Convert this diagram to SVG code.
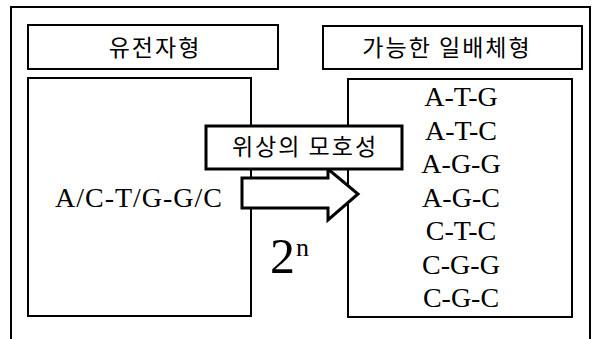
<svg xmlns="http://www.w3.org/2000/svg" width="595" height="339" viewBox="0 0 595 339">
<style>
.box{fill:#fff;stroke:#000;stroke-width:2}
.thick{fill:#fff;stroke:#000;stroke-width:3}
.ko{font-family:"Noto Sans CJK KR","Noto Sans",sans-serif;font-size:23px;letter-spacing:2px;text-anchor:middle;fill:#000}
.se{font-family:"Liberation Serif","Times New Roman",serif;font-size:28px;fill:#000}
.mid{text-anchor:middle}
</style>
<rect width="595" height="339" fill="#fff"/>
<rect id="frame" x="11" y="7" width="579" height="345" fill="none" stroke="#000" stroke-width="2"/>
<g id="genotype-header">
<rect class="box" x="28" y="25" width="250" height="44"/>
<text class="ko" x="155" y="56">유전자형</text>
</g>
<g id="haplotype-header">
<rect class="box" x="323" y="26" width="259" height="43"/>
<text class="ko" x="447" y="56">가능한 일배체형</text>
</g>
<g id="genotype">
<rect class="box" x="28" y="78" width="223" height="238"/>
<text class="se" x="55" y="207" textLength="167">A/C-T/G-G/C</text>
</g>
<g id="haplotypes">
<rect class="box" x="348" y="79" width="224" height="238"/>
<g class="se mid">
<text x="461" y="106">A-T-G</text>
<text x="461" y="139.5">A-T-C</text>
<text x="461" y="173">A-G-G</text>
<text x="461" y="206.5">A-G-C</text>
<text x="461" y="240">C-T-C</text>
<text x="461" y="273.5">C-G-G</text>
<text x="461" y="307">C-G-C</text>
</g>
</g>
<g id="connectors">
<polygon class="thick" points="242,178 328,178 328,169 358,194 328,220 328,208 242,208"/>
</g>
<g id="ambiguity-label">
<rect class="thick" x="206" y="126" width="196" height="43"/>
<text class="ko" x="305" y="155">위상의 모호성</text>
</g>
<g id="count">
<text x="270" y="273" font-family="Liberation Serif, serif" font-size="50">2</text>
<text x="296" y="256" font-family="Liberation Serif, serif" font-size="26">n</text>
</g>
</svg>
